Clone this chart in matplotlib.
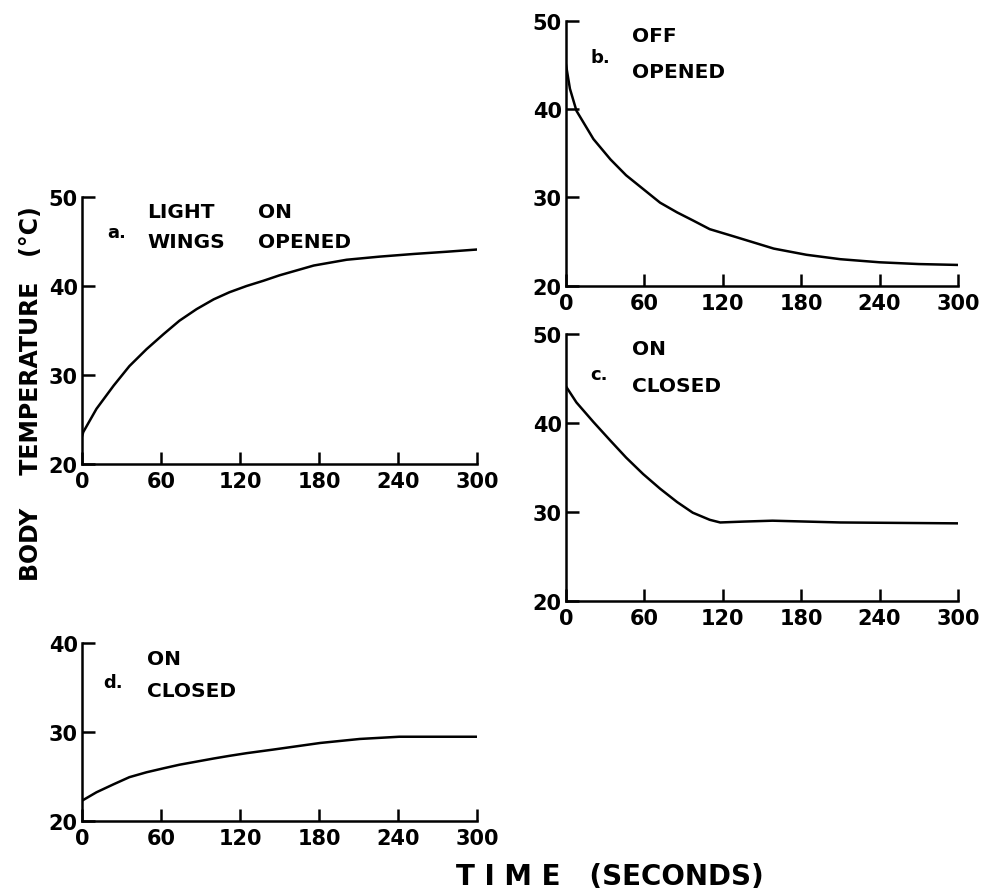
import matplotlib
matplotlib.use("Agg")
import matplotlib.pyplot as plt

plt.rcParams['font.family'] = ['DejaVu Sans']
plt.rcParams['font.weight'] = 'bold'

# ---- data (seconds, deg C) ----
t_a = [0, 1, 11, 24, 36, 49, 62, 74, 87, 100, 112, 125, 138, 150,
       176, 201, 226, 252, 277, 300]
temp_a = [23.1, 23.6, 26.2, 28.8, 31.0, 32.9, 34.6, 36.1, 37.4, 38.5, 39.3,
          40.0, 40.6, 41.2, 42.3, 42.95, 43.3, 43.6, 43.85, 44.1]

t_b = [0, 3, 8, 21, 34, 46, 59, 72, 85, 97, 110, 128, 159, 184, 210, 240, 270, 300]
temp_b = [45.0, 42.3, 39.8, 36.6, 34.3, 32.5, 30.95, 29.4, 28.3, 27.4, 26.4,
          25.6, 24.2, 23.5, 23.0, 22.65, 22.45, 22.35]

t_c = [0, 8, 21, 34, 46, 59, 72, 85, 97, 110, 118, 136, 158, 210, 300]
temp_c = [44.1, 42.3, 40.1, 38.0, 36.1, 34.25, 32.6, 31.1, 29.9, 29.1, 28.8,
          28.9, 29.0, 28.8, 28.7]

t_d = [0, 11, 24, 36, 49, 62, 74, 87, 100, 112, 125, 145, 181, 211, 241, 300]
temp_d = [22.25, 23.2, 24.1, 24.9, 25.45, 25.9, 26.3, 26.65, 27.0, 27.3, 27.6,
          28.0, 28.75, 29.2, 29.45, 29.45]

x_ticks = [0, 60, 120, 180, 240, 300]
y_ticks_abc = [20, 30, 40, 50]
y_ticks_d = [20, 30, 40]

W, H = 992, 895
fig = plt.figure(figsize=(W / 100, H / 100), dpi=100)


def add_ax(left, right, top, bottom):
    return fig.add_axes([left / W, 1 - bottom / H, (right - left) / W, (bottom - top) / H])


def style(ax, yticks, ylim):
    ax.set_xlim(0, 300)
    ax.set_ylim(*ylim)
    ax.set_xticks(x_ticks)
    ax.set_yticks(yticks)
    for s in ['top', 'right']:
        ax.spines[s].set_visible(False)
    for s in ['left', 'bottom']:
        ax.spines[s].set_linewidth(1.8)
    ax.tick_params(direction='in', length=9, width=1.8, labelsize=15, pad=3)
    ax.tick_params(axis='x', pad=5)
    for lab in ax.get_xticklabels() + ax.get_yticklabels():
        lab.set_fontweight('bold')
    ax.patch.set_alpha(0)


def ftext(x, y, s, size=14.5, **kw):
    fig.text(x / W, 1 - y / H, s, fontsize=size, fontweight='bold', **kw)


ax_a = add_ax(82, 477, 198, 465)
ax_a.plot(t_a, temp_a, color='black', lw=1.8)
style(ax_a, y_ticks_abc, (20, 50))

ax_b = add_ax(566, 958, 21.7, 286.7)
ax_b.plot(t_b, temp_b, color='black', lw=1.8)
style(ax_b, y_ticks_abc, (20, 50))

ax_c = add_ax(566, 958, 335, 601.7)
ax_c.plot(t_c, temp_c, color='black', lw=1.8)
style(ax_c, y_ticks_abc, (20, 50))

ax_d = add_ax(82, 477, 644, 821.7)
ax_d.plot(t_d, temp_d, color='black', lw=1.8)
style(ax_d, y_ticks_d, (20, 40))

# panel annotations
ftext(107, 238, 'a.', size=13)
ftext(147, 218, 'LIGHT')
ftext(258, 218, 'ON')
ftext(147, 248, 'WINGS')
ftext(258, 248, 'OPENED')

ftext(590, 63, 'b.', size=13)
ftext(632, 42, 'OFF')
ftext(632, 78, 'OPENED')

ftext(590, 380, 'c.', size=13)
ftext(632, 355, 'ON')
ftext(632, 392, 'CLOSED')

ftext(103, 688, 'd.', size=13)
ftext(147, 665, 'ON')
ftext(147, 697, 'CLOSED')

# axis titles
fig.text(31 / W, 1 - 394 / H, 'BODY    TEMPERATURE   (°C)', rotation=90,
         ha='center', va='center', fontsize=17, fontweight='bold')
fig.text(610 / W, 1 - 877 / H, 'T I M E   (SECONDS)', ha='center', va='center',
         fontsize=20, fontweight='bold')

fig.savefig('out.png', dpi=100)
